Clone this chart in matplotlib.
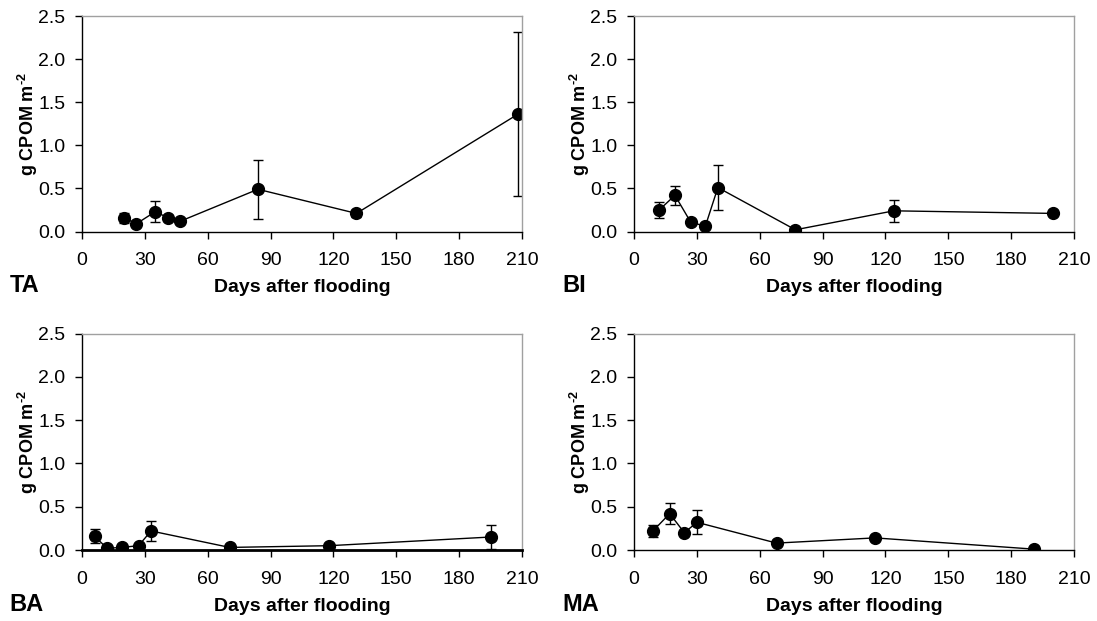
import matplotlib
matplotlib.use("Agg")
from matplotlib import pyplot as plt

plt.rcParams["font.family"] = ["Liberation Sans", "DejaVu Sans"]
plt.rcParams["mathtext.fontset"] = "custom"
plt.rcParams["mathtext.rm"] = "Liberation Sans:bold"
plt.rcParams["mathtext.bf"] = "Liberation Sans:bold"

# --- data (days after flooding, g CPOM m-2, +/- error) ---
ta_days = [20, 26, 35, 41, 47, 84, 131, 208]
ta_cpom = [0.16, 0.09, 0.23, 0.16, 0.12, 0.49, 0.21, 1.36]
ta_err = [0.06, 0.02, 0.12, 0.03, 0.02, 0.34, 0.04, 0.95]

bi_days = [12, 19.5, 27, 34, 40, 77, 124, 200]
bi_cpom = [0.25, 0.42, 0.11, 0.06, 0.51, 0.02, 0.24, 0.21]
bi_err = [0.09, 0.11, 0.02, 0.02, 0.26, 0.01, 0.13, 0.02]

ba_days = [6, 12, 19, 27, 33, 70.5, 118, 195]
ba_cpom = [0.16, 0.02, 0.03, 0.05, 0.22, 0.03, 0.05, 0.15]
ba_err = [0.08, 0.01, 0.01, 0.02, 0.12, 0.01, 0.02, 0.14]

ma_days = [9, 17, 24, 30, 68, 115, 191]
ma_cpom = [0.22, 0.42, 0.20, 0.32, 0.08, 0.14, 0.01]
ma_err = [0.07, 0.125, 0.02, 0.14, 0.02, 0.02, 0.01]

panels = [
    ("TA", ta_days, ta_cpom, ta_err, [0.0747, 0.6272, 0.4011, 0.347]),
    ("BI", bi_days, bi_cpom, bi_err, [0.578, 0.6272, 0.4011, 0.347]),
    ("BA", ba_days, ba_cpom, ba_err, [0.0747, 0.1143, 0.4011, 0.3486]),
    ("MA", ma_days, ma_cpom, ma_err, [0.578, 0.1143, 0.4011, 0.3486]),
]

fig = plt.figure(figsize=(10.97, 6.21), dpi=100)

for name, days, cpom, err, pos in panels:
    ax = fig.add_axes(pos)
    ax.errorbar(days, cpom, yerr=err, fmt="o-", color="black", ms=8.5,
                lw=1.0, elinewidth=1.0, capsize=3.3, capthick=1.0)
    ax.set_xlim(0, 210)
    ax.set_ylim(0, 2.5)
    ax.set_xticks(range(0, 211, 30))
    ax.set_yticks([0, 0.5, 1.0, 1.5, 2.0, 2.5])
    ax.set_yticklabels(["0.0", "0.5", "1.0", "1.5", "2.0", "2.5"])
    ax.tick_params(labelsize=14, direction="out", length=5, width=1.0)
    ax.tick_params(axis="x", pad=10)
    ax.tick_params(axis="y", pad=7)
    for s in ("top", "right"):
        ax.spines[s].set_color("#a0a0a0")
        ax.spines[s].set_linewidth(1.0)
    ax.spines["left"].set_linewidth(1.0)
    ax.spines["bottom"].set_linewidth(2.0 if name == "BA" else 1.0)

    ax.set_xlabel("Days after flooding", fontsize=14, fontweight="bold")
    ax.xaxis.set_label_coords(0.5, -0.281)
    ax.xaxis.label.set_va("baseline")
    ax.set_ylabel(r"g CPOM m$^{\text{-2}}$", fontsize=13, fontweight="bold")
    ax.yaxis.set_label_coords(-0.095, 0.5)

    ax.text(-0.164, -0.281, name, transform=ax.transAxes, fontsize=17,
            fontweight="bold", va="baseline", ha="left")

fig.savefig("out.png", dpi=100)
